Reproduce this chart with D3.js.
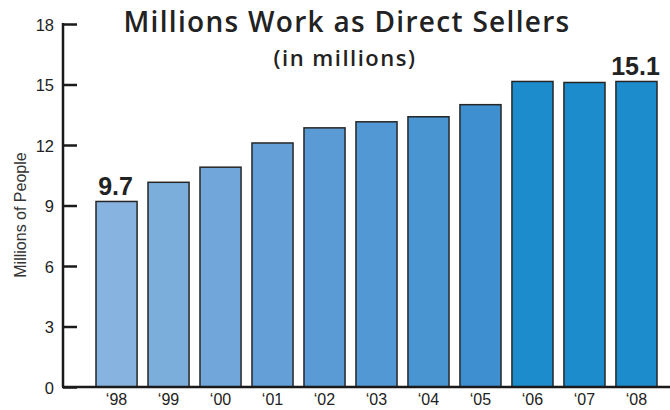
<!DOCTYPE html>
<html>
<head>
<meta charset="utf-8">
<script src="https://cdn.jsdelivr.net/npm/d3@7"></script>
<style>
  body { margin: 0; background: #fff; }
  svg { display: block; }
</style>
</head>
<body>
<svg id="chart"></svg>
<script>
const years = ["‘98", "‘99", "‘00", "‘01", "‘02", "‘03", "‘04", "‘05", "‘06", "‘07", "‘08"];
const sellers = [9.2, 10.15, 10.9, 12.1, 12.85, 13.15, 13.4, 14.0, 15.15, 15.1, 15.15];
const yTicks = [0, 3, 6, 9, 12, 15, 18];
const callouts = [{ year: "‘98", text: "9.7" }, { year: "‘08", text: "15.1" }];

const barColors = ["#86b3df", "#7caedc", "#70a6da", "#64a0d7", "#5a9bd5", "#5298d4", "#4995d2", "#3e8fd0",
    "#1d8ccd", "#1d8ccd", "#1d8ccd"];

function drawChart() {
    const svg = d3.select("#chart")
        .attr("width", 670)
        .attr("height", 410);

    const x = d3.scaleBand()
        .domain(years)
        .range([96, 657])
        .paddingInner(0.21)
        .paddingOuter(0);

    const y = d3.scaleLinear()
        .domain([0, 18])
        .range([387, 24]);

    // bars
    svg.append("g")
        .selectAll("rect")
        .data(years)
        .enter().append("rect")
        .attr("x", d => x(d))
        .attr("y", (d, i) => y(sellers[i]))
        .attr("width", x.bandwidth())
        .attr("height", (d, i) => y(0) - y(sellers[i]))
        .attr("fill", (d, i) => barColors[i])
        .attr("stroke", "#262626")
        .attr("stroke-width", 1.5);

    // y axis
    const yAxis = svg.append("g")
        .attr("transform", "translate(63,0)")
        .call(d3.axisRight(y).tickValues(yTicks).tickSize(14).tickFormat(""));
    yAxis.select(".domain").remove();
    yAxis.selectAll(".tick line")
        .attr("stroke", "#1a1a1a")
        .attr("stroke-width", 2.5);

    svg.append("line")
        .attr("x1", 63).attr("x2", 63)
        .attr("y1", y(18) - 1).attr("y2", y(0))
        .attr("stroke", "#1a1a1a")
        .attr("stroke-width", 2.5);

    svg.append("g")
        .selectAll("text")
        .data(yTicks)
        .enter().append("text")
        .attr("x", 54)
        .attr("y", d => y(d) + 1)
        .attr("dy", "0.36em")
        .attr("text-anchor", "end")
        .style("font-family", "Liberation Sans, Arial, sans-serif")
        .style("font-size", "16.5px")
        .style("fill", "#222")
        .text(d => d);

    // baseline
    svg.append("line")
        .attr("x1", 62).attr("x2", 670)
        .attr("y1", y(0)).attr("y2", y(0))
        .attr("stroke", "#1a1a1a")
        .attr("stroke-width", 2.5);

    // x labels
    svg.append("g")
        .selectAll("text")
        .data(years)
        .enter().append("text")
        .attr("x", d => x(d) + x.bandwidth() / 2)
        .attr("y", 405)
        .attr("text-anchor", "middle")
        .style("font-family", "Liberation Sans, Arial, sans-serif")
        .style("font-size", "16px")
        .style("fill", "#222")
        .text(d => d);

    // callouts
    svg.append("g")
        .selectAll("text")
        .data(callouts)
        .enter().append("text")
        .attr("x", d => x(d.year) + x.bandwidth() / 2 - 1)
        .attr("y", d => y(sellers[years.indexOf(d.year)]) - 6)
        .attr("text-anchor", "middle")
        .style("font-family", "Liberation Sans, Arial, sans-serif")
        .style("font-size", "25px")
        .style("font-weight", "bold")
        .style("fill", "#222")
        .text(d => d.text);

    // y axis title
    svg.append("text")
        .attr("transform", "translate(26,215) rotate(-90)")
        .attr("text-anchor", "middle")
        .style("font-family", "Liberation Sans, Arial, sans-serif")
        .style("font-size", "16px")
        .style("fill", "#333")
        .text("Millions of People");

    // titles
    svg.append("text")
        .attr("x", 347)
        .attr("y", 32)
        .attr("text-anchor", "middle")
        .style("font-family", "Open Sans, sans-serif")
        .style("font-size", "28px")
        .style("font-weight", "600")
        .style("letter-spacing", "1.3px")
        .style("fill", "#222")
        .text("Millions Work as Direct Sellers");

    svg.append("text")
        .attr("x", 345)
        .attr("y", 66)
        .attr("text-anchor", "middle")
        .style("font-family", "Open Sans, sans-serif")
        .style("font-size", "22px")
        .style("font-weight", "600")
        .style("letter-spacing", "1.5px")
        .style("fill", "#222")
        .text("(in millions)");
}

drawChart();
</script>
</body>
</html>
